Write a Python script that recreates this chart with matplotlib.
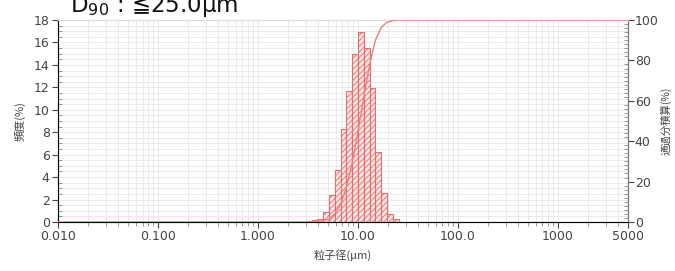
import numpy as np
import matplotlib
matplotlib.use('Agg')
import matplotlib.pyplot as plt
import matplotlib.ticker as mtick

plt.rcParams['font.family'] = ['DejaVu Sans', 'Noto Sans CJK JP']
plt.rcParams['hatch.color'] = '#e98a8a'
plt.rcParams['hatch.linewidth'] = 0.6

# --- datos ---
bin_step = 0.058                      # ancho de clase en décadas
bin_k = np.arange(-9, 7)              # clases respecto a 10 µm
freq = [0.08, 0.15, 0.3, 0.9, 2.4, 4.6, 8.3, 11.7,
        15.0, 16.9, 15.5, 11.9, 6.2, 2.6, 0.75, 0.3]
xticks = [0.01, 0.1, 1, 10, 100, 1000, 5000]
xticklabels = ['0.010', '0.100', '1.000', '10.00', '100.0', '1000', '5000']
title = 'D$_{90}$ : ≦25.0μm'

left_edges = 10 * 10 ** (bin_k * bin_step)
right_edges = 10 * 10 ** ((bin_k + 1) * bin_step)
widths = right_edges - left_edges

cum = np.cumsum(freq) / np.sum(freq) * 100
cum_x = np.concatenate([[0.01, left_edges[0]], right_edges, [5000]])
cum_y = np.concatenate([[0, 0], cum, [100]])

fig = plt.figure(figsize=(6.75, 2.71), dpi=100)
ax = fig.add_axes([0.086, 0.181, 0.844, 0.745])

ax.bar(left_edges, freq, width=widths, align='edge', color='#fbe3e3',
       edgecolor='#e07070', linewidth=0.8, hatch='//////', zorder=3)

ax.set_xscale('log')
ax.set_xlim(0.01, 5000)
ax.set_ylim(0, 18)
ax.set_xticks(xticks)
ax.set_xticklabels(xticklabels)
ax.xaxis.set_minor_locator(mtick.LogLocator(base=10, subs=np.arange(2, 10)))
ax.xaxis.set_minor_formatter(mtick.NullFormatter())
ax.yaxis.set_major_locator(mtick.MultipleLocator(2))
ax.yaxis.set_minor_locator(mtick.MultipleLocator(0.5))

ax.grid(True, which='both', color='#e6e6e6', linewidth=0.6, zorder=0)
ax.set_axisbelow(True)

ax.tick_params(axis='both', which='major', labelsize=9, colors='#444444',
               direction='out', length=4, pad=2)
ax.tick_params(axis='y', which='minor', direction='in', length=3, color='#888888')
ax.tick_params(axis='x', which='minor', direction='out', length=3, color='#888888')
for s in ['left', 'bottom', 'right']:
    ax.spines[s].set_color('#777777')
ax.spines['top'].set_color('#dddddd')

ax.set_xlabel('粒子径(μm)', fontsize=8, color='#444444',
              family=['Noto Sans CJK JP'], labelpad=4)
ax.set_ylabel('頻度(%)', fontsize=8, color='#444444',
              family=['Noto Sans CJK JP'], labelpad=6)

ax2 = ax.twinx()
ax2.plot(cum_x, cum_y, color='#e98080', linewidth=1.0, zorder=4)
ax2.set_ylim(0, 100)
ax2.yaxis.set_major_locator(mtick.MultipleLocator(20))
ax2.yaxis.set_minor_locator(mtick.MultipleLocator(2))
ax2.tick_params(axis='y', which='major', labelsize=9, colors='#444444',
                direction='out', length=4, pad=1)
ax2.tick_params(axis='y', which='minor', direction='in', length=3, color='#888888')
ax2.spines['right'].set_color('#777777')
ax2.spines['top'].set_color('#dddddd')
ax2.set_ylabel('通過分積算(%)', fontsize=7.5, color='#444444',
               family=['Noto Sans CJK JP'], labelpad=1)

fig.text(0.104, 0.955, title, fontsize=16.5, color='#111111', va='baseline')

fig.savefig('out.png', dpi=100)
